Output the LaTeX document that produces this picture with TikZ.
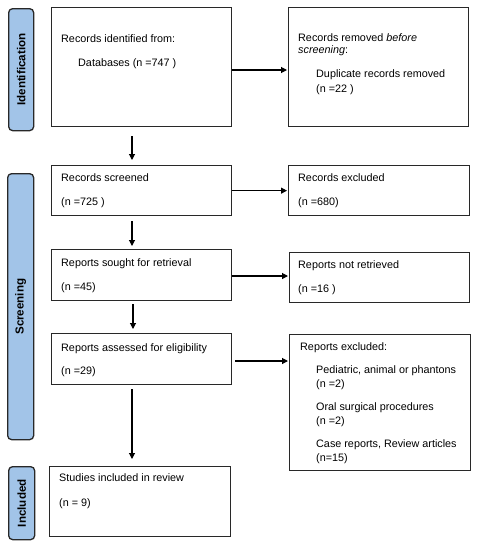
\documentclass[tikz,border=0pt]{standalone}
\usepackage{fontspec}
\setmainfont{Liberation Sans}
\usetikzlibrary{arrows.meta,calc}
\definecolor{barblue}{RGB}{162,196,232}
\definecolor{linegray}{RGB}{40,40,40}
\begin{document}
\begin{tikzpicture}[x=1pt,y=-1pt,
  box/.style={draw=linegray,line width=1.3pt,anchor=north west,inner sep=0pt,fill=white},
  bar/.style={draw=linegray,line width=1.3pt,fill=barblue,rounded corners=4pt,anchor=north west,inner sep=0pt},
  bartext/.style={font=\fontsize{11.6}{13}\selectfont\bfseries,rotate=90,inner sep=0pt},
  txt/.style={anchor=base west,inner sep=0pt,font=\fontsize{10.8}{13}\selectfont},
  arr/.style={-{Triangle[width=6pt,length=6pt]},line width=1.1pt,draw=black}]
\useasboundingbox (0,0) rectangle (478,550);
% phase bars
\node[bar,minimum width=25pt,minimum height=122pt] (barid) at (8,8) {};
\node[bartext] (tid) at (barid.center) {Identification};
\node[bar,minimum width=26pt,minimum height=266pt] (barsc) at (7,173) {};
\node[bartext] (tsc) at (barsc.center) {Screening};
\node[bar,minimum width=26pt,minimum height=73pt] (barin) at (8,466) {};
\node[bartext] (tin) at (barin.center) {Included};
% left boxes
\node[box,minimum width=180pt,minimum height=119pt] (b1) at (51,7) {};
\node[box,minimum width=180pt,minimum height=50pt] (b2) at (51,165) {};
\node[box,minimum width=180pt,minimum height=51pt] (b3) at (51,249) {};
\node[box,minimum width=180pt,minimum height=51pt] (b4) at (51,333) {};
\node[box,minimum width=181pt,minimum height=70pt] (b5) at (49,466) {};
% right boxes
\node[box,minimum width=180pt,minimum height=119pt] (r1) at (288,7) {};
\node[box,minimum width=181pt,minimum height=50pt] (r2) at (288,165) {};
\node[box,minimum width=180pt,minimum height=50pt] (r3) at (289,252) {};
\node[box,minimum width=181pt,minimum height=136pt] (r4) at (289,334) {};
% texts
\node[txt] (t1a) at (61,42) {Records identified from:};
\node[txt] (t1b) at (78,66) {Databases (n =747 )};
\node[txt] (t2a) at (61,181) {Records screened};
\node[txt] (t2b) at (61,205) {(n =725 )};
\node[txt] (t3a) at (61,266) {Reports sought for retrieval};
\node[txt] (t3b) at (61,290) {(n =45)};
\node[txt] (t4a) at (61,351) {Reports assessed for eligibility};
\node[txt] (t4b) at (61,374) {(n =29)};
\node[txt] (t5a) at (59,481) {Studies included in review};
\node[txt] (t5b) at (59,506) {(n = 9)};
\node[txt] (u1a) at (298,41) {Records removed \textit{before}};
\node[txt] (u1b) at (298,53) {\textit{screening}:};
\node[txt] (u1c) at (316,77) {Duplicate records removed};
\node[txt] (u1d) at (316,92) {(n =22 )};
\node[txt] (u2a) at (298,181) {Records excluded};
\node[txt] (u2b) at (298,205) {(n =680)};
\node[txt] (u3a) at (298,268) {Reports not retrieved};
\node[txt] (u3b) at (298,292) {(n =16 )};
\node[txt] (u4a) at (300,350) {Reports excluded:};
\node[txt] (u4b) at (316,373) {Pediatric, animal or phantons};
\node[txt] (u4c) at (316,387) {(n =2)};
\node[txt] (u4d) at (316,410) {Oral surgical procedures};
\node[txt] (u4e) at (316,424) {(n =2)};
\node[txt] (u4f) at (316,447) {Case reports, Review articles};
\node[txt] (u4g) at (316,461) {(n=15)};
% horizontal arrows
\draw[arr] ($(b1.north east)+(0,63)$) -- ($(r1.north west)+(-1,63)$);
\draw[arr] (b2.east) -- ($(b2.east -| r2.west)+(-1,0)$);
\draw[arr] ($(b3.north east)+(0,27)$) -- ($(r3.north west)+(-1,24)$);
\draw[arr] ($(b4.north east)+(3,28)$) -- ($(r4.north west)+(-1,27)$);
% vertical arrows
\draw[arr] ($(b1.south west)+(81,9)$) -- ($(b2.north west)+(81,-5)$);
\draw[arr] ($(b2.south west)+(81,5)$) -- ($(b3.north west)+(81,-3)$);
\draw[arr] ($(b3.south west)+(82,3)$) -- ($(b4.north west)+(82,-4)$);
\draw[arr] ($(b4.south west)+(81,4)$) -- ($(b5.north west)+(83,-7)$);
\end{tikzpicture}
\end{document}
